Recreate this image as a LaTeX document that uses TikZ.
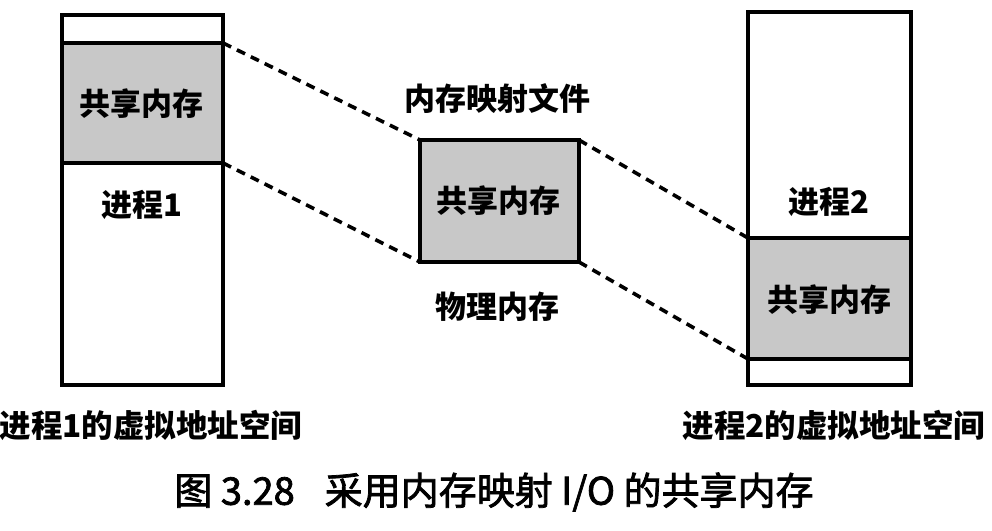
\documentclass[tikz,border=0pt]{standalone}
\usepackage{fontspec}
\newfontfamily\cjk{Noto Sans CJK SC}
\newfontfamily\cjkcap{Noto Sans CJK SC}[FakeBold=2]
\definecolor{shade}{RGB}{200,200,200}
\tikzset{
  seg/.style={draw=black, line width=3.6pt, inner sep=0pt, outer sep=0pt, fill=white},
  shared/.style={seg, fill=shade},
  lbl/.style={inner sep=0pt, font=\cjk\bfseries\fontsize{31}{31}\selectfont},
  biglbl/.style={inner sep=0pt, font=\cjk\bfseries\fontsize{31.5}{32}\selectfont},
  maplink/.style={line width=3.6pt, dash pattern=on 9pt off 6.5pt}
}
\begin{document}
\begin{tikzpicture}[x=1pt,y=-1pt]
\useasboundingbox (0,0) rectangle (992,530);
% left column
\node[seg, minimum width=161pt, minimum height=28pt] (l0) at (142.5,29) {};
\node[shared, minimum width=161pt, minimum height=120pt] (l1) at (142.5,103) {};
\node[seg, minimum width=161pt, minimum height=222pt] (l2) at (142.5,274) {};
\node[lbl] (l1t) at (141,104) {共享内存};
\node[lbl] (l2t) at (142,205) {进程1};
% middle box
\node[shared, minimum width=159pt, minimum height=122pt] (m) at (499.5,201) {};
\node[lbl] (mt) at (498,201) {共享内存};
\node[lbl] (mtop) at (497,99) {内存映射文件};
\node[lbl] (mbot) at (497,307) {物理内存};
% right column
\node[seg, minimum width=163pt, minimum height=226pt] (r0) at (829.5,125) {};
\node[shared, minimum width=163pt, minimum height=121pt] (r1) at (829.5,298.5) {};
\node[seg, minimum width=163pt, minimum height=26pt] (r2) at (829.5,372) {};
\node[lbl] (r0t) at (829,202) {进程2};
\node[lbl] (r1t) at (829,300) {共享内存};
% connectors
\draw[maplink] (l1.north east) -- (m.north west);
\draw[maplink] (l1.south east) -- (m.south west);
\draw[maplink] (m.north east) -- (r1.north west);
\draw[maplink] (m.south east) -- (r1.south west);
% captions
\node[biglbl] (lcap) at (151,425) {进程1的虚拟地址空间};
\node[biglbl] (rcap) at (834,425) {进程2的虚拟地址空间};
\node[inner sep=0pt, font=\cjkcap\fontsize{38}{38}\selectfont] (fig) at (494,492) {图 3.28\hspace{30pt}采用内存映射 I/O 的共享内存};
\end{tikzpicture}
\end{document}
